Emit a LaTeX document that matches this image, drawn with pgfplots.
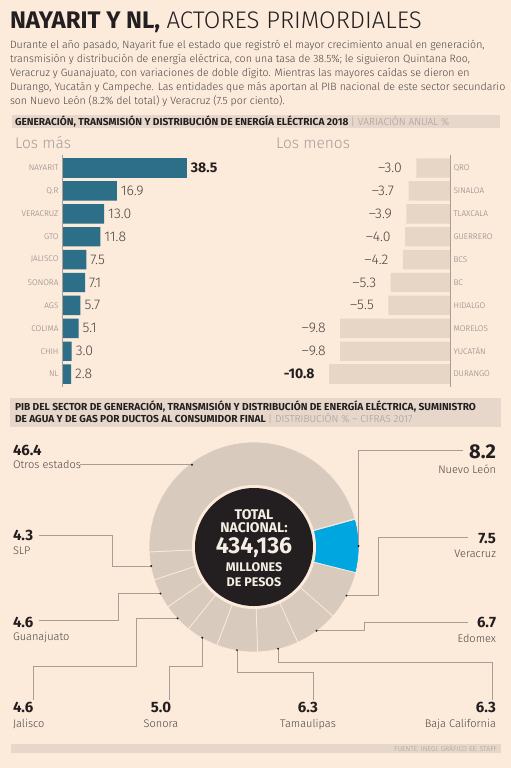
\documentclass[border=0pt]{standalone}
\usepackage{pgfplots}
\usepackage{pgfplotstable}
\pgfplotsset{compat=1.18}
\usepackage{fontspec}
\setmainfont{Fira Sans}
\newfontfamily\light{Fira Sans Light}

\definecolor{bg}{HTML}{FCEADB}
\definecolor{band}{HTML}{E6D7CA}
\definecolor{teal}{HTML}{2D6E88}
\definecolor{sand}{HTML}{E7D5C5}
\definecolor{ring}{HTML}{D8CBBE}
\definecolor{nlblue}{HTML}{00A6E0}
\definecolor{ink}{HTML}{231F20}
\definecolor{soft}{HTML}{4A4543}
\definecolor{tick}{HTML}{8A8480}
\definecolor{hint}{HTML}{A59E98}
\definecolor{lead}{HTML}{A69E97}
\definecolor{paper}{HTML}{F6EEE4}

\newcommand\fs[2]{\fontsize{#1}{#2}\selectfont}

% Variación anual 2018 (%)
\pgfplotstableread{
i v
0 38.5
1 16.9
2 13.0
3 11.8
4 7.5
5 7.1
6 5.7
7 5.1
8 3.0
9 2.8
}\losmas
\pgfplotstableread{
i v
0 -3.0
1 -3.7
2 -3.9
3 -4.0
4 -4.2
5 -5.3
6 -5.5
7 -9.8
8 -9.8
9 -10.8
}\losmenos

\pgfplotsset{
  rank/.style={
    y=22.9pt, ymin=-0.5, ymax=9.5, y dir=reverse,
    xbar, bar width=19.4pt, bar shift=0pt,
    axis line style={draw=none}, xtick=\empty, ytick={0,...,9},
    major tick length=0pt,
    yticklabel style={font=\light\fs{8.2}{9}, text=tick},
    clip=false,
    /pgf/number format/assume math mode=true,
    /pgf/number format/fixed,
    /pgf/number format/fixed zerofill,
    /pgf/number format/precision=1,
  },
}
\tikzset{txt/.style={inner sep=0pt, outer sep=0pt}}

\begin{document}
\begin{tikzpicture}
\useasboundingbox (0pt,0pt) rectangle (511pt,-768pt);
\fill[bg] (0pt,0pt) rectangle (511pt,-768pt);

% Title and intro
\node[txt, anchor=base west, text=ink] at (10pt,-28.5pt)
  {\fs{24}{26}\textbf{NAYARIT Y NL,} {\light ACTORES PRIMORDIALES}};
\begin{scope}[every node/.style={txt, anchor=base west, text=soft, font=\light\fs{10.6}{14}}]
\node at (10pt,-48.5pt) {Durante el año pasado, Nayarit fue el estado que registró el mayor crecimiento anual en generación,};
\node at (10pt,-62.5pt) {transmisión y distribución de energía eléctrica, con una tasa de 38.5\%; le siguieron Quintana Roo,};
\node at (10pt,-76.5pt) {Veracruz y Guanajuato, con variaciones de doble dígito. Mientras las mayores caídas se dieron en};
\node at (10pt,-90.5pt) {Durango, Yucatán y Campeche. Las entidades que más aportan al PIB nacional de este sector secundario};
\node at (10pt,-104.5pt) {son Nuevo León (8.2\% del total) y Veracruz (7.5 por ciento).};
\end{scope}

% Section band 1
\fill[band] (12pt,-115pt) rectangle (500pt,-128pt);
\node[txt, anchor=base west, text=ink, font=\bfseries\fs{10.15}{11}] at (15pt,-125pt)
  {GENERACIÓN, TRANSMISIÓN Y DISTRIBUCIÓN DE ENERGÍA ELÉCTRICA 2018 \textcolor{hint}{\mdseries\light| VARIACIÓN ANUAL \%}};
\node[txt, anchor=base west, text=hint, font=\light\fs{15.5}{16}] at (15pt,-148pt) {Los más};
\node[txt, anchor=base west, text=hint, font=\light\fs{15.5}{16}] at (276pt,-148pt) {Los menos};

% Los más
\begin{axis}[rank, at={(62pt,-156.55pt)}, anchor=north west,
  x=3.245pt, xmin=0, xmax=40,
  yticklabels={NAYARIT,Q.R,VERACRUZ,GTO,JALISCO,SONORA,AGS,COLIMA,CHIH,NL},
  point meta=x, nodes near coords,
  every node near coord/.append style={anchor=west, font=\light\fs{14}{14}, text=soft, xshift=0.5pt}]
\addplot[fill=teal, draw=none, skip coords between index={1}{10},
  nodes near coords style={font=\bfseries\fs{14}{14}, text=ink}] table[x=v, y=i] {\losmas};
\addplot[fill=teal, draw=none, skip coords between index={0}{1}] table[x=v, y=i] {\losmas};
\draw[lead, line width=0.5pt] (axis cs:0,-0.55) -- (axis cs:0,9.55);
\end{axis}

% Los menos
\begin{axis}[rank, at={(450pt,-156.55pt)}, anchor=north east,
  x=11.2pt, xmin=-11, xmax=0, yticklabel pos=right,
  yticklabels={QRO,SINALOA,TLAXCALA,GUERRERO,BCS,BC,HIDALGO,MORELOS,YUCATÁN,DURANGO},
  nodes near coords={–\pgfmathprintnumber{\pgfplotspointmeta}},
  every node near coord/.append style={anchor=east, font=\light\fs{14}{14}, text=soft, xshift=-11pt}]
\addplot[fill=sand, draw=none, point meta={-\thisrow{v}}, skip coords between index={9}{10}]
  table[x=v, y=i] {\losmenos};
\addplot[fill=sand, draw=none, point meta={-\thisrow{v}}, skip coords between index={0}{9},
  nodes near coords={-\pgfmathprintnumber{\pgfplotspointmeta}},
  nodes near coords style={font=\bfseries\fs{14}{14}, text=ink}]
  table[x=v, y=i] {\losmenos};
\draw[lead, line width=0.5pt] (axis cs:0,-0.55) -- (axis cs:0,9.55);
\end{axis}

% Section band 2
\fill[band] (10pt,-398pt) rectangle (501pt,-427pt);
\node[txt, anchor=base west, text=ink, font=\bfseries\fs{10.15}{11}] at (15pt,-410.5pt)
  {PIB DEL SECTOR DE GENERACIÓN, TRANSMISIÓN Y DISTRIBUCIÓN DE ENERGÍA ELÉCTRICA, SUMINISTRO};
\node[txt, anchor=base west, text=ink, font=\bfseries\fs{10.15}{11}] at (15pt,-422.5pt)
  {DE AGUA Y DE GAS POR DUCTOS AL CONSUMIDOR FINAL \textcolor{hint}{\mdseries\light| DISTRIBUCIÓN \% – CIFRAS 2017}};

% Distribución del PIB (%), en sentido horario desde Nuevo León
\begin{axis}[at={(254pt,-547pt)}, anchor=center, x=1pt, y=1pt,
  xmin=-110, xmax=110, ymin=-110, ymax=110, hide axis, clip=false]
\gdef\ang{15.3}
\foreach \v/\c [count=\i] in {8.2/nlblue, 7.5/ring, 6.7/ring, 6.3/ring, 6.3/ring,
    5.0/ring, 4.6/ring, 4.6/ring, 4.3/ring, 46.4/ring}{
  \pgfmathsetmacro\e{\ang-3.6*\v}
  \pgfmathsetmacro\m{\ang-1.8*\v}
  \edef\temp{%
    \noexpand\fill[\c, draw=bg, line width=0.7pt, shift={(axis cs:0,0)}]
      (\ang:105pt) arc[start angle=\ang, end angle=\e, radius=105pt]
      -- (\e:61pt) arc[start angle=\e, end angle=\ang, radius=61pt] -- cycle;
    \noexpand\coordinate (d\i) at ([shift={(axis cs:0,0)}]\m:104.5pt);
  }\temp
  \xdef\ang{\e}
}
\fill[bg] (axis cs:0,0) circle[radius=62pt];
\fill[ink] (axis cs:0,0) circle[radius=59pt];
\coordinate (dO) at ([shift={(axis cs:0,0)}]127:103pt);
\end{axis}

% Centre text
\begin{scope}[every node/.style={txt, anchor=base, text=paper, font=\bfseries}]
\node[font=\bfseries\fs{14}{15}] at (254pt,-519pt) {TOTAL};
\node[font=\bfseries\fs{14}{15}] at (254pt,-532pt) {NACIONAL:};
\node[font=\bfseries\fs{23}{24}] at (254pt,-553pt) {434,136};
\node[font=\bfseries\fs{12.5}{13}] at (254pt,-571pt) {MILLONES};
\node[font=\bfseries\fs{12.5}{13}] at (254pt,-586pt) {DE PESOS};
\end{scope}

% Leader lines
\begin{scope}[lead, line width=0.6pt]
\draw (d1) |- (463pt,-450pt);
\draw (d2) -| (378pt,-537pt) -- (468pt,-537pt);
\draw (d3) -| (364pt,-622pt) -- (468pt,-622pt);
\draw (d4) |- (492pt,-662pt) -- (492pt,-700pt);
\draw (d5) |- (313pt,-672pt) -- (313pt,-700pt);
\draw (d6) |- (169pt,-666pt) -- (169pt,-700pt);
\draw (d7) -| (136pt,-666pt) -| (33pt,-700pt);
\draw (d8) -| (118pt,-620pt) -- (39pt,-620pt);
\draw (d9) -| (112pt,-535pt) -- (39pt,-535pt);
\draw (dO) -- ++(-112pt,0pt);
\end{scope}
\foreach \k in {1,...,9} \fill[ink] (d\k) circle[radius=1.1pt];
\fill[ink] (dO) circle[radius=1.1pt];

% Donut labels
\begin{scope}[every node/.style={txt, text=ink}]
\node[anchor=base west, font=\bfseries\fs{15}{16}] at (13pt,-455pt) {46.4};
\node[anchor=base west, font=\light\fs{11}{12}, text=soft] at (13pt,-468pt) {Otros estados};
\node[anchor=base east, font=\bfseries\fs{20}{22}] at (496pt,-458pt) {8.2};
\node[anchor=base east, font=\light\fs{11}{12}, text=soft] at (496pt,-473pt) {Nuevo León};
\node[anchor=base west, font=\bfseries\fs{15}{16}] at (13pt,-540pt) {4.3};
\node[anchor=base west, font=\light\fs{11}{12}, text=soft] at (13pt,-554pt) {SLP};
\node[anchor=base east, font=\bfseries\fs{15}{16}] at (496pt,-543pt) {7.5};
\node[anchor=base east, font=\light\fs{11}{12}, text=soft] at (496pt,-557pt) {Veracruz};
\node[anchor=base west, font=\bfseries\fs{15}{16}] at (13pt,-627pt) {4.6};
\node[anchor=base west, font=\light\fs{11}{12}, text=soft] at (13pt,-640.7pt) {Guanajuato};
\node[anchor=base east, font=\bfseries\fs{15}{16}] at (496pt,-627pt) {6.7};
\node[anchor=base east, font=\light\fs{11}{12}, text=soft] at (496pt,-642.7pt) {Edomex};
\node[anchor=base west, font=\bfseries\fs{15}{16}] at (13pt,-712.7pt) {4.6};
\node[anchor=base west, font=\light\fs{11}{12}, text=soft] at (13pt,-727.3pt) {Jalisco};
\node[anchor=base, font=\bfseries\fs{15}{16}] at (161pt,-712.7pt) {5.0};
\node[anchor=base, font=\light\fs{11}{12}, text=soft] at (161pt,-727.3pt) {Sonora};
\node[anchor=base, font=\bfseries\fs{15}{16}] at (308pt,-712.7pt) {6.3};
\node[anchor=base, font=\light\fs{11}{12}, text=soft] at (308pt,-727.3pt) {Tamaulipas};
\node[anchor=base east, font=\bfseries\fs{15}{16}] at (496pt,-712.7pt) {6.3};
\node[anchor=base east, font=\light\fs{11}{12}, text=soft] at (496pt,-727.3pt) {Baja California};
\end{scope}

% Source band
\fill[band] (11pt,-744pt) rectangle (501pt,-753pt);
\node[txt, anchor=base east, text=hint, font=\light\fs{7}{8}] at (497pt,-751pt) {FUENTE: INEGI. GRÁFICO EE: STAFF};
\end{tikzpicture}
\end{document}
